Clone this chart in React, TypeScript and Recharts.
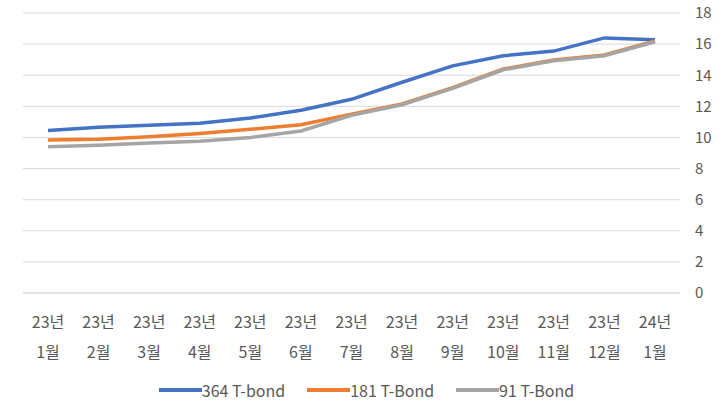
import React from 'react';
import { LineChart, Line, XAxis, YAxis, CartesianGrid, Legend } from 'recharts';

const years = ['23년', '23년', '23년', '23년', '23년', '23년', '23년', '23년', '23년', '23년', '23년', '23년', '24년'];
const months = ['1월', '2월', '3월', '4월', '5월', '6월', '7월', '8월', '9월', '10월', '11월', '12월', '1월'];
const t364 = [10.45, 10.65, 10.78, 10.92, 11.25, 11.75, 12.45, 13.55, 14.6, 15.25, 15.55, 16.4, 16.28];
const t181 = [9.83, 9.88, 10.05, 10.25, 10.52, 10.82, 11.5, 12.15, 13.2, 14.4, 14.98, 15.3, 16.2];
const t91 = [9.4, 9.5, 9.65, 9.75, 10.0, 10.42, 11.42, 12.1, 13.15, 14.35, 14.93, 15.25, 16.15];
const yTicks = [0, 2, 4, 6, 8, 10, 12, 14, 16, 18];

const seriesNames = ['364 T-bond', '181 T-Bond', '91 T-Bond'];
const seriesColors = ['#4472C4', '#ED7D31', '#A5A5A5'];

const data = months.map((m, i) => ({
  key: String(i),
  year: years[i],
  month: m,
  s364: t364[i],
  s181: t181[i],
  s91: t91[i],
}));

const FONT = '"Noto Sans CJK KR", "Noto Sans", sans-serif';
const TEXT = '#595959';

const XTick = (props: any) => {
  const { x, y, payload } = props;
  const i = Number(payload.value);
  return (
    <g>
      <text x={x} y={y + 35} textAnchor="middle" fill={TEXT} fontSize={16} fontFamily={FONT}>
        {years[i]}
      </text>
      <text x={x} y={y + 65} textAnchor="middle" fill={TEXT} fontSize={16} fontFamily={FONT}>
        {months[i]}
      </text>
    </g>
  );
};

const LegendContent = () => (
  <div
    style={{
      display: 'flex',
      justifyContent: 'center',
      alignItems: 'center',
      gap: 22,
      fontFamily: FONT,
      fontSize: 16,
      color: TEXT,
      height: 24,
      lineHeight: '24px',
      paddingLeft: 6,
    }}
  >
    {seriesNames.map((n, i) => (
      <div key={n} style={{ display: 'flex', alignItems: 'center' }}>
        <span style={{ display: 'inline-block', width: 43, height: 3.5, background: seriesColors[i] }} />
        <span>{n}</span>
      </div>
    ))}
  </div>
);

export default function App() {
  return (
    <div style={{ position: 'absolute', left: 0, top: 0, width: 727, height: 406, background: '#fff' }}>
      <LineChart width={727} height={406} data={data} margin={{ top: 13, left: 23, right: 0, bottom: 4 }}>
        <CartesianGrid vertical={false} stroke="#D9D9D9" strokeWidth={1} />
        <XAxis
          dataKey="key"
          interval={0}
          tickLine={false}
          axisLine={{ stroke: '#D9D9D9' }}
          tickSize={0}
          tickMargin={0}
          height={85}
          padding={{ left: 25, right: 25 }}
          tick={<XTick />}
        />
        <YAxis
          orientation="right"
          domain={[0, 18]}
          ticks={yTicks}
          interval={0}
          axisLine={false}
          tickLine={false}
          tickSize={0}
          tickMargin={15}
          width={47}
          tick={{ fill: TEXT, fontSize: 15, fontFamily: FONT, textAnchor: 'start' }}
        />
        <Legend
          verticalAlign="bottom"
          height={24}
          wrapperStyle={{ left: 0, width: 727 }}
          content={<LegendContent />}
        />
        <Line type="linear" dataKey="s364" stroke={seriesColors[0]} strokeWidth={3.5} dot={false} isAnimationActive={false} />
        <Line type="linear" dataKey="s181" stroke={seriesColors[1]} strokeWidth={3.5} dot={false} isAnimationActive={false} />
        <Line type="linear" dataKey="s91" stroke={seriesColors[2]} strokeWidth={3.5} dot={false} isAnimationActive={false} />
      </LineChart>
    </div>
  );
}
